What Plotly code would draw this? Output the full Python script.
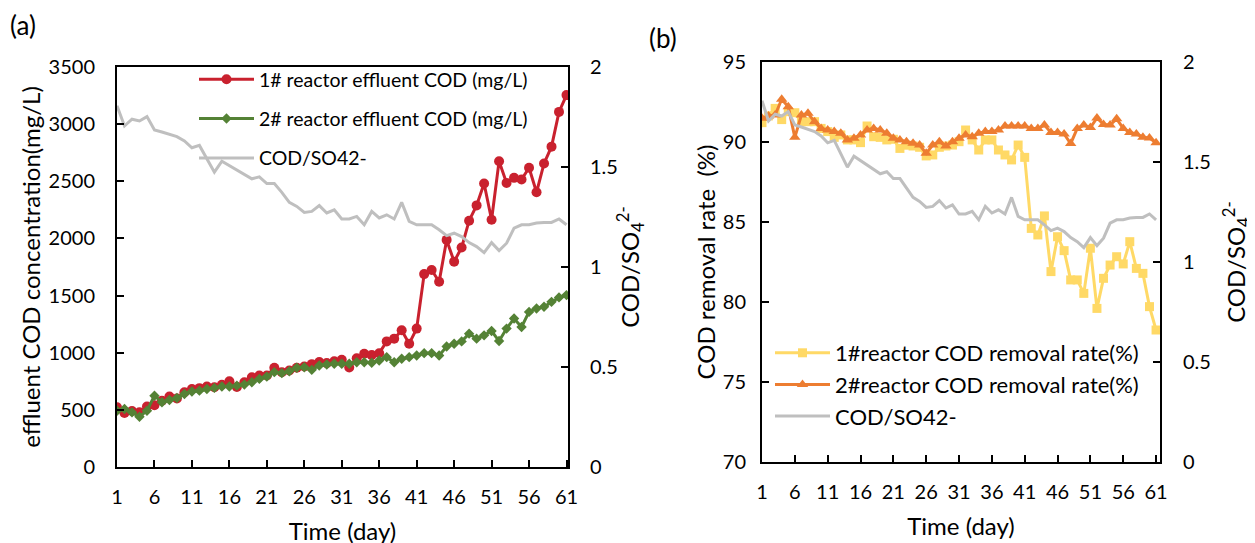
import plotly.graph_objects as go

days = list(range(1, 62))
xtick_vals = list(range(1, 62, 5))
xtick_text = [str(v) for v in xtick_vals]

cod1_effluent = [522, 472, 490, 478, 530, 540, 580, 616, 600, 654, 683, 690, 704, 698, 720, 750, 700, 742, 786, 800,
                 800, 868, 830, 844, 868, 880, 900, 918, 909, 926, 938, 870, 952, 991, 979, 996, 1099, 1123, 1196, 1079,
                 1211, 1688, 1724, 1621, 1987, 1797, 1920, 2155, 2289, 2480, 2163, 2676, 2486, 2530, 2515, 2618, 2404, 2656, 2803, 3107,
                 3254]
cod2_effluent = [492, 507, 478, 440, 492, 624, 566, 586, 604, 639, 660, 668, 683, 692, 704, 704, 712, 721, 742, 771,
                 791, 830, 821, 838, 868, 873, 850, 888, 897, 903, 903, 903, 917, 917, 912, 932, 961, 917, 947, 961,
                 976, 996, 996, 976, 1055, 1079, 1099, 1167, 1123, 1152, 1190, 1102, 1211, 1299, 1225, 1357, 1387, 1402, 1445, 1484,
                 1504]
cod_so4 = [1.806, 1.705, 1.739, 1.730, 1.752, 1.685, 1.675, 1.665, 1.652, 1.630, 1.596, 1.608, 1.538, 1.474, 1.529, 1.508,
           1.487, 1.462, 1.441, 1.451, 1.417, 1.417, 1.373, 1.323, 1.303, 1.273, 1.278, 1.307, 1.270, 1.286, 1.240, 1.240,
           1.253, 1.211, 1.278, 1.245, 1.261, 1.240, 1.323, 1.228, 1.211, 1.211, 1.211, 1.186, 1.157, 1.169, 1.152, 1.122,
           1.102, 1.072, 1.122, 1.082, 1.119, 1.194, 1.211, 1.211, 1.220, 1.223, 1.223, 1.240, 1.211]
removal1 = [91.21, 91.63, 92.1, 91.4, 91.9, 91.83, 91.27, 91.27, 91.27, 90.85, 90.65, 90.29, 90.44, 90.13, 90.13, 89.96,
            91.0, 90.33, 90.29, 90.13, 90.17, 89.6, 89.8, 89.75, 89.67, 89.13, 89.19, 89.67, 89.75, 89.81, 90.02, 90.75,
            90.13, 89.5, 90.13, 90.13, 89.5, 89.19, 88.88, 89.81, 89.04, 84.6, 84.19, 85.38, 81.9, 84.08, 83.21, 81.38,
            81.38, 80.54, 83.36, 79.6, 81.48, 82.31, 82.83, 82.38, 83.77, 82.1, 81.79, 79.71, 78.25]
removal2 = [91.48, 91.63, 91.69, 92.67, 92.21, 90.29, 91.69, 91.79, 91.27, 90.85, 90.75, 90.65, 90.54, 90.13, 90.23, 90.44,
            90.75, 90.85, 90.75, 90.54, 90.23, 90.13, 90.02, 89.92, 89.81, 89.29, 89.81, 90.02, 89.75, 90.02, 90.23, 90.44,
            90.33, 90.54, 90.65, 90.65, 90.75, 91.0, 91.0, 91.0, 91.0, 90.85, 90.85, 91.06, 90.6, 90.6, 90.5, 89.9,
            90.85, 91.06, 90.9, 91.5, 91.1, 91.06, 91.45, 90.85, 90.6, 90.5, 90.3, 90.25, 89.95]

FONT = "Lato"
BLACK = "#000000"
RED = "#C9212E"
GREEN = "#548235"
GRAY = "#BFBFBF"
YELLOW = "#FFD966"
ORANGE = "#ED7D31"

W, H = 1255, 543
OFF = 8  # page body margin
def px(x):
    return (x - OFF) / W
def py(y):
    return 1 - (y - OFF) / H

fig = go.Figure()

# Panel (a)
fig.add_trace(go.Scatter(x=days, y=cod1_effluent, name="1# reactor effluent COD (mg/L)", mode="lines+markers",
                         line=dict(color=RED, width=3), marker=dict(symbol="circle", size=10, color=RED),
                         xaxis="x", yaxis="y", legend="legend", legendgroup="a1"))
fig.add_trace(go.Scatter(x=days, y=cod2_effluent, name="2# reactor effluent COD (mg/L)", mode="lines+markers",
                         line=dict(color=GREEN, width=3), marker=dict(symbol="diamond", size=8, color=GREEN),
                         xaxis="x", yaxis="y", legend="legend", legendgroup="a2"))
fig.add_trace(go.Scatter(x=days, y=cod_so4, name="COD/SO42-", mode="lines",
                         line=dict(color=GRAY, width=3),
                         xaxis="x", yaxis="y2", legend="legend", legendgroup="a3"))

# Panel (b)
fig.add_trace(go.Scatter(x=days, y=removal1, name="1#reactor COD removal rate(%)", mode="lines+markers",
                         line=dict(color=YELLOW, width=3), marker=dict(symbol="square", size=9, color=YELLOW),
                         xaxis="x2", yaxis="y3", legend="legend2", legendgroup="b1"))
fig.add_trace(go.Scatter(x=days, y=removal2, name="2#reactor COD removal rate(%)", mode="lines+markers",
                         line=dict(color=ORANGE, width=3), marker=dict(symbol="triangle-up", size=10, color=ORANGE),
                         xaxis="x2", yaxis="y3", legend="legend2", legendgroup="b2"))
fig.add_trace(go.Scatter(x=days, y=cod_so4, name="COD/SO42-", mode="lines",
                         line=dict(color=GRAY, width=3),
                         xaxis="x2", yaxis="y4", legend="legend2", legendgroup="b3"))

tickfont = dict(family=FONT, size=20, color=BLACK)
titlefont = dict(family=FONT, size=24, color=BLACK)

common_x = dict(tickvals=xtick_vals, ticktext=xtick_text, ticks="inside", ticklen=7, tickwidth=2, tickcolor=BLACK,
                showline=True, linewidth=2, linecolor=BLACK, mirror=True, showgrid=False, zeroline=False,
                tickfont=tickfont, ticklabelstandoff=11, automargin=False,
                title=dict(text="Time (day)", font=titlefont, standoff=16))
common_y = dict(ticks="inside", ticklen=7, tickwidth=2, tickcolor=BLACK, showline=True, linewidth=2, linecolor=BLACK,
                showgrid=False, zeroline=False, tickfont=tickfont, automargin=False)

fig.update_layout(
    width=W, height=H,
    margin=dict(l=0, r=0, t=0, b=0),
    paper_bgcolor="white", plot_bgcolor="white",
    font=dict(family=FONT, color=BLACK),
    xaxis=dict(domain=[px(117), px(568)], range=[1, 61.2], anchor="y", **common_x),
    yaxis=dict(domain=[py(467), py(67)], range=[0, 3500], dtick=500, anchor="x", ticklabelstandoff=16,
               title=dict(text="effluent COD concentration(mg/L)", font=titlefont, standoff=1), **common_y),
    yaxis2=dict(range=[0, 2], tickvals=[0, 0.5, 1, 1.5, 2], ticktext=["0", "0.5", "1", "1.5", "2"],
                overlaying="y", side="right", anchor="x", ticklabelstandoff=16,
                title=dict(text="COD/SO<sub>4</sub><sup>2-</sup>", font=titlefont, standoff=5), **common_y),
    xaxis2=dict(domain=[px(762), px(1160)], range=[1, 61.6], anchor="y3", **common_x),
    yaxis3=dict(domain=[py(462), py(62)], range=[70, 95], dtick=5, anchor="x2", ticklabelstandoff=10,
                title=dict(text="COD removal rate  (%)", font=titlefont, standoff=0), **common_y),
    yaxis4=dict(range=[0, 2], tickvals=[0, 0.5, 1, 1.5, 2], ticktext=["0", "0.5", "1", "1.5", "2"],
                overlaying="y3", side="right", anchor="x2", ticklabelstandoff=17,
                title=dict(text="COD/SO<sub>4</sub><sup>2-</sup>", font=titlefont, standoff=18), **common_y),
    legend=dict(x=px(194), y=py(60), xanchor="left", yanchor="top", bgcolor="rgba(0,0,0,0)",
                font=dict(family=FONT, size=19.5, color=BLACK), traceorder="grouped", tracegroupgap=11,
                itemwidth=55),
    legend2=dict(x=px(770), y=py(332), xanchor="left", yanchor="top", bgcolor="rgba(0,0,0,0)",
                 font=dict(family=FONT, size=22, color=BLACK), traceorder="grouped", tracegroupgap=0,
                 itemwidth=55),
    showlegend=True,
    annotations=[
        dict(text="(a)", x=px(8), y=py(25), xref="paper", yref="paper", xanchor="left", yanchor="middle",
             showarrow=False, font=dict(family=FONT, size=26, color=BLACK)),
        dict(text="(b)", x=px(647), y=py(38), xref="paper", yref="paper", xanchor="left", yanchor="middle",
             showarrow=False, font=dict(family=FONT, size=26, color=BLACK)),
    ],
)

fig.write_html("out.html")
